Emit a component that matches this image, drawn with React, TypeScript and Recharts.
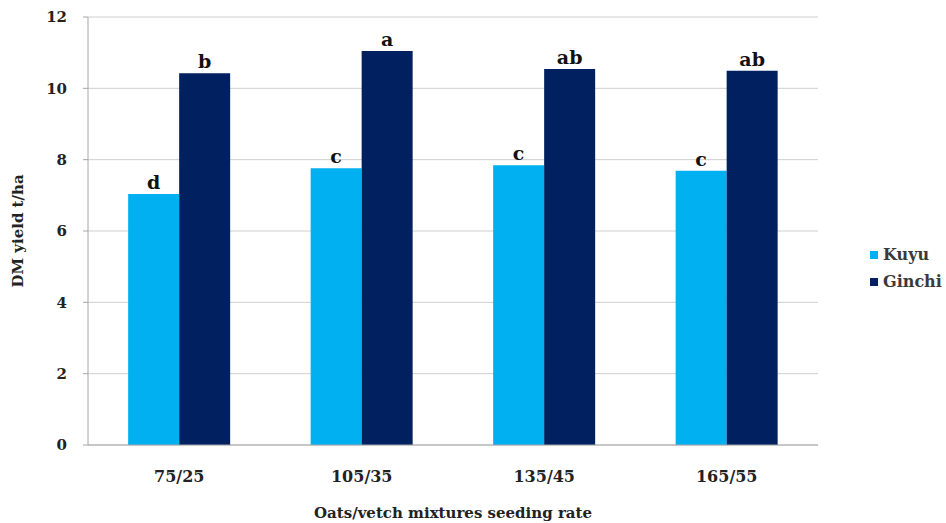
import { BarChart, Bar, XAxis, YAxis, CartesianGrid, Legend, LabelList } from 'recharts';

const categories = ['75/25', '105/35', '135/45', '165/55'];
const kuyu = [7.04, 7.76, 7.84, 7.69];
const ginchi = [10.42, 11.05, 10.54, 10.49];
const kuyuLetters = ['d', 'c', 'c', 'c'];
const ginchiLetters = ['b', 'a', 'ab', 'ab'];
const yTicks = [0, 2, 4, 6, 8, 10, 12];
const boundaryTicks = [0, 1, 2, 3, 4];
const seriesNames = ['Kuyu', 'Ginchi'];
const seriesColors = ['#00b0f0', '#002060'];

const FONT = 'DejaVu Serif';

const data = categories.map((name, i) => ({
  name,
  idx: i + 0.5,
  kuyu: kuyu[i],
  ginchi: ginchi[i],
  kuyuLetter: kuyuLetters[i],
  ginchiLetter: ginchiLetters[i],
}));

function renderLegend() {
  return (
    <div style={{ fontFamily: FONT, fontWeight: 'bold', fontSize: 16, color: '#3a3a3a', whiteSpace: 'nowrap' }}>
      {seriesNames.map((name, i) => (
        <div key={name} style={{ display: 'flex', alignItems: 'center', height: 27 }}>
          <span style={{ width: 8, height: 8, background: seriesColors[i], marginRight: 5, display: 'inline-block' }} />
          <span>{name}</span>
        </div>
      ))}
    </div>
  );
}

const tickStyle = { fill: '#222', fontFamily: FONT, fontWeight: 'bold', fontSize: 15 };
const letterStyle = { fill: '#111', fontFamily: FONT, fontWeight: 'bold', fontSize: 19 };

export default function App() {
  return (
    <div style={{ position: 'absolute', left: 0, top: 0, background: '#fff', fontFamily: FONT }}>
      <BarChart
        width={946}
        height={523}
        data={data}
        margin={{ top: 17, right: 128, bottom: 0, left: 0 }}
        barGap={0}
        barCategoryGap="22%"
      >
        <CartesianGrid vertical={false} stroke="#cfcfcf" />
        <XAxis
          xAxisId="b"
          type="number"
          dataKey="idx"
          domain={[0, 4]}
          ticks={boundaryTicks}
          height={0}
          axisLine={false}
          tick={false}
          tickSize={5}
          tickLine={{ stroke: '#a6a6a6' }}
        />
        <XAxis
          xAxisId="cat"
          dataKey="name"
          height={78}
          axisLine={{ stroke: '#a6a6a6' }}
          tickLine={false}
          tickMargin={20}
          tick={{ ...tickStyle, fontSize: 16 }}
          label={{
            value: 'Oats/vetch mixtures seeding rate',
            position: 'insideBottom',
            offset: 5,
            style: { fill: '#222', fontFamily: FONT, fontWeight: 'bold', fontSize: 15 },
          }}
        />
        <YAxis
          domain={[0, 12]}
          ticks={yTicks}
          width={88}
          axisLine={{ stroke: '#a6a6a6' }}
          tickLine={{ stroke: '#a6a6a6' }}
          tickSize={5}
          tickMargin={16}
          tick={tickStyle}
          label={{
            value: 'DM yield t/ha',
            angle: -90,
            position: 'insideLeft',
            offset: 18,
            style: { textAnchor: 'middle', fill: '#222', fontFamily: FONT, fontWeight: 'bold', fontSize: 15 },
          }}
        />
        <Legend
          layout="vertical"
          align="center"
          verticalAlign="middle"
          content={renderLegend}
          wrapperStyle={{ left: 870, top: 241, width: 76 }}
        />
        <Bar xAxisId="cat" dataKey="kuyu" name="Kuyu" fill={seriesColors[0]} isAnimationActive={false}>
          <LabelList dataKey="kuyuLetter" position="top" offset={5} style={letterStyle} />
        </Bar>
        <Bar xAxisId="cat" dataKey="ginchi" name="Ginchi" fill={seriesColors[1]} isAnimationActive={false}>
          <LabelList dataKey="ginchiLetter" position="top" offset={5} style={letterStyle} />
        </Bar>
      </BarChart>
    </div>
  );
}
